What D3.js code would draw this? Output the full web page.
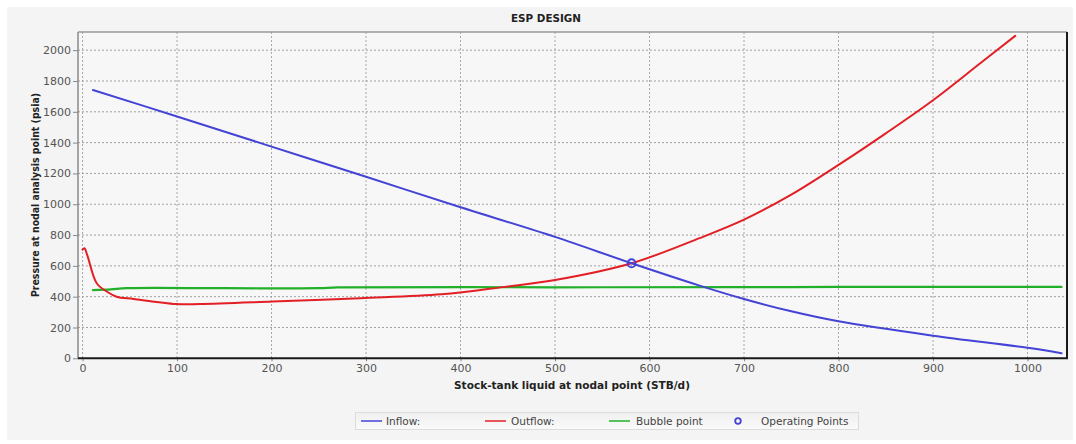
<!DOCTYPE html>
<html>
<head>
<meta charset="utf-8">
<script src="https://cdn.jsdelivr.net/npm/d3@7/dist/d3.min.js"></script>
<style>
  html, body { margin: 0; padding: 0; background: #ffffff; }
  svg { display: block; }
</style>
</head>
<body>
<svg id="chart" width="1076" height="444"></svg>
<script>
// ---- data ----
const inflowX  = [11, 100, 200, 300, 400, 500, 581, 653, 700, 750, 800, 900, 1000, 1036];
const inflowY  = [1742, 1570, 1374, 1178, 980, 788, 617, 472, 385, 305, 240, 147, 68, 33];

const outflowX = [0, 2, 5, 15, 26, 36, 54, 99, 124, 201, 294, 380, 445, 500, 581, 653, 700, 750, 800, 850, 900, 950, 987];
const outflowY = [705, 714, 670, 487, 432, 400, 385, 352, 352, 368, 390, 415, 462, 508, 617, 780, 900, 1062, 1255, 1460, 1675, 1915, 2093];

const bubbleX  = [11, 30, 47, 150, 250, 270, 500, 700, 800, 1036];
const bubbleY  = [443, 448, 455, 455, 455, 460, 461, 462, 463, 463];

const opX = [581];
const opY = [617];

const xTicks = [0, 100, 200, 300, 400, 500, 600, 700, 800, 900, 1000];
const yTicks = [0, 200, 400, 600, 800, 1000, 1200, 1400, 1600, 1800, 2000];

const titleText  = "ESP DESIGN";
const xLabelText = "Stock-tank liquid at nodal point (STB/d)";
const yLabelText = "Pressure at nodal analysis point (psia)";
const legendNames = ["Inflow:", "Outflow:", "Bubble point", "Operating Points"];

// ---- layout ----
const svg = d3.select("#chart");
const L = 78, R = 1067, T = 32, B = 358.3;
const colBlue = "#4343d6", colRed = "#e31f26", colGreen = "#22b02a";

const x = d3.scaleLinear().domain([-4.8, 1041.8]).range([L, R]);
const y = d3.scaleLinear().domain([0, 2118]).range([B, T]);

// panel background
svg.append("rect").attr("x", 7).attr("y", 7).attr("width", 1066).attr("height", 433).attr("fill", "#f4f4f4");
svg.append("rect").attr("x", L).attr("y", T).attr("width", R - L).attr("height", B - T).attr("fill", "#f7f7f7");

const font = "'DejaVu Sans', sans-serif";

// grid
const grid = svg.append("g");
grid.selectAll("line.v").data(xTicks).join("line")
  .attr("x1", d => x(d)).attr("x2", d => x(d)).attr("y1", T).attr("y2", B)
  .attr("stroke", "#a8a8a8").attr("stroke-width", 1).attr("stroke-dasharray", "2,2");
grid.selectAll("line.h").data(yTicks.filter(d => d > 0)).join("line")
  .attr("x1", L).attr("x2", R).attr("y1", d => y(d)).attr("y2", d => y(d))
  .attr("stroke", "#a0a0a0").attr("stroke-width", 1).attr("stroke-dasharray", "2,2");

// axes (ticks + labels via d3 axes)
const yAxis = svg.append("g").attr("transform", `translate(${L},0)`)
  .call(d3.axisLeft(y).tickValues(yTicks).tickFormat(d3.format("d")).tickSize(5).tickSizeOuter(0).tickPadding(2));
yAxis.select(".domain").remove();
yAxis.selectAll(".tick line").attr("stroke", "#888");
yAxis.selectAll(".tick text").attr("fill", "#555").style("font-family", font).style("font-size", "11px");

const xAxis = svg.append("g").attr("transform", `translate(0,${B})`)
  .call(d3.axisBottom(x).tickValues(xTicks).tickFormat(d3.format("d")).tickSize(3).tickSizeOuter(0).tickPadding(3));
xAxis.select(".domain").remove();
xAxis.selectAll(".tick line").attr("stroke", "#888");
xAxis.selectAll(".tick text").attr("fill", "#555").style("font-family", font).style("font-size", "11px");

// frame: top/left gray, bottom/right dark
svg.append("line").attr("x1", L).attr("x2", R).attr("y1", T).attr("y2", T).attr("stroke", "#9a9a9a").attr("stroke-width", 1.5);
svg.append("line").attr("x1", L).attr("x2", L).attr("y1", T).attr("y2", B).attr("stroke", "#8a8a8a").attr("stroke-width", 1.5);
svg.append("line").attr("x1", L).attr("x2", R + 1).attr("y1", B).attr("y2", B).attr("stroke", "#1a1a1a").attr("stroke-width", 2);
svg.append("line").attr("x1", R).attr("x2", R).attr("y1", T).attr("y2", B).attr("stroke", "#1a1a1a").attr("stroke-width", 2);

// series
const plot = svg.append("g");
function series(xs, ys, color, w) {
  const pts = xs.map((v, i) => [v, ys[i]]);
  plot.append("path").datum(pts)
    .attr("fill", "none").attr("stroke", color).attr("stroke-width", w)
    .attr("stroke-linejoin", "round").attr("stroke-linecap", "round")
    .attr("d", d3.line().x(d => x(d[0])).y(d => y(d[1])).curve(d3.curveCatmullRom.alpha(0.5)));
}
series(bubbleX, bubbleY, colGreen, 2.2);
series(outflowX, outflowY, colRed, 2);
series(inflowX, inflowY, colBlue, 2);

plot.selectAll("circle.op").data(opX.map((v, i) => [v, opY[i]])).join("circle")
  .attr("cx", d => x(d[0])).attr("cy", d => y(d[1])).attr("r", 4)
  .attr("fill", "none").attr("stroke", colBlue).attr("stroke-width", 1.8);

// title and axis labels
svg.append("text").attr("x", 546).attr("y", 22).attr("text-anchor", "middle")
  .style("font-family", font).style("font-size", "10px").style("font-weight", "bold").attr("fill", "#222")
  .attr("textLength", 70).attr("lengthAdjust", "spacingAndGlyphs").text(titleText);

svg.append("text").attr("x", 572).attr("y", 389).attr("text-anchor", "middle")
  .style("font-family", font).style("font-size", "11px").style("font-weight", "bold").attr("fill", "#222")
  .attr("textLength", 236).attr("lengthAdjust", "spacingAndGlyphs").text(xLabelText);

svg.append("text").attr("transform", "translate(39,195) rotate(-90)").attr("text-anchor", "middle")
  .style("font-family", font).style("font-size", "11px").style("font-weight", "bold").attr("fill", "#222")
  .attr("textLength", 204).attr("lengthAdjust", "spacingAndGlyphs").text(yLabelText);

// legend
const lg = svg.append("g");
const grad = svg.append("defs").append("linearGradient").attr("id", "lgGrad").attr("x1", 0).attr("x2", 0).attr("y1", 0).attr("y2", 1);
grad.append("stop").attr("offset", "0%").attr("stop-color", "#f0f0f0");
grad.append("stop").attr("offset", "100%").attr("stop-color", "#fafafa");
lg.append("rect").attr("x", 355.5).attr("y", 412.5).attr("width", 503).attr("height", 17)
  .attr("fill", "url(#lgGrad)").attr("stroke", "#dcdcdc").attr("stroke-width", 1);
const legendItems = [
  { name: legendNames[0], color: colBlue, type: "line", x0: 361, tx: 386 },
  { name: legendNames[1], color: colRed, type: "line", x0: 485, tx: 511 },
  { name: legendNames[2], color: colGreen, type: "line", x0: 609, tx: 636 },
  { name: legendNames[3], color: colBlue, type: "circle", x0: 738, tx: 761 }
];
legendItems.forEach(it => {
  if (it.type === "line") {
    lg.append("line").attr("x1", it.x0).attr("x2", it.x0 + 21).attr("y1", 421).attr("y2", 421)
      .attr("stroke", it.color).attr("stroke-width", 1.5);
  } else {
    lg.append("circle").attr("cx", it.x0).attr("cy", 421).attr("r", 2.8)
      .attr("fill", "none").attr("stroke", it.color).attr("stroke-width", 1.8);
  }
  lg.append("text").attr("x", it.tx).attr("y", 425).style("font-family", font).style("font-size", "10.5px")
    .attr("fill", "#444").text(it.name);
});
</script>
</body>
</html>
